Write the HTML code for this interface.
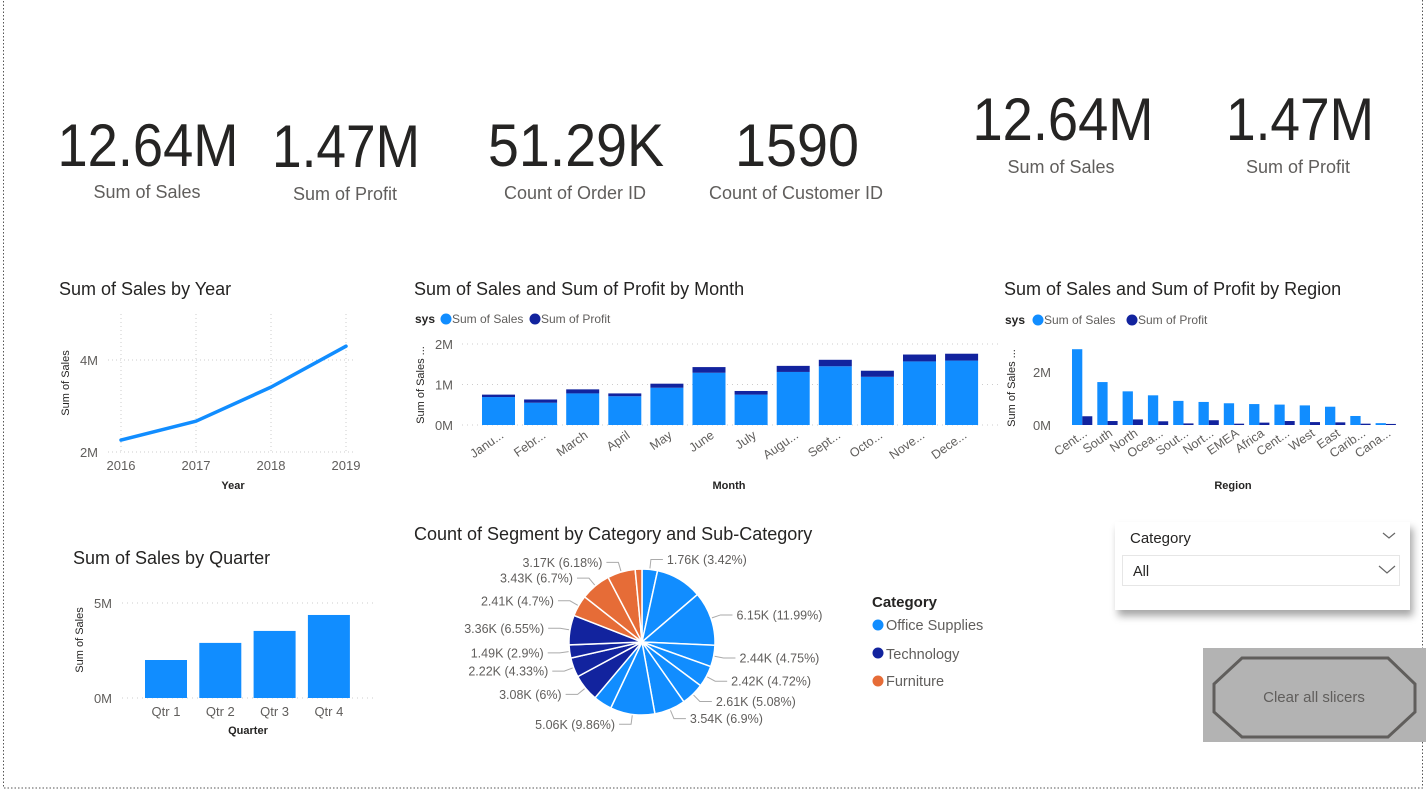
<!DOCTYPE html>
<html><head><meta charset="utf-8"><style>
html,body{margin:0;padding:0;background:#fff;}
svg{display:block;font-family:"Liberation Sans",sans-serif;}
</style></head><body>
<svg id="root" width="1426" height="791" viewBox="0 0 1426 791" xmlns="http://www.w3.org/2000/svg">
<defs>
<filter id="sh" x="-10%" y="-10%" width="130%" height="150%"><feDropShadow dx="3" dy="6" stdDeviation="4" flood-color="#000" flood-opacity="0.35"/></filter>
</defs>
<rect x="3.5" y="-2" width="1419" height="790" fill="none" stroke="#555" stroke-dasharray="1.5,2"/>

<g fill="#252423">
<g><text x="148" y="166" font-size="60" text-anchor="middle" textLength="181" lengthAdjust="spacingAndGlyphs">12.64M</text><text x="147" y="198" font-size="18" fill="#605e5c" text-anchor="middle">Sum of Sales</text></g>
<g><text x="346" y="167" font-size="60" text-anchor="middle" textLength="148" lengthAdjust="spacingAndGlyphs">1.47M</text><text x="345" y="200" font-size="18" fill="#605e5c" text-anchor="middle">Sum of Profit</text></g>
<g><text x="576" y="166" font-size="60" text-anchor="middle" textLength="176" lengthAdjust="spacingAndGlyphs">51.29K</text><text x="575" y="199" font-size="18" fill="#605e5c" text-anchor="middle">Count of Order ID</text></g>
<g><text x="797" y="166" font-size="60" text-anchor="middle" textLength="124" lengthAdjust="spacingAndGlyphs">1590</text><text x="796" y="199" font-size="18" fill="#605e5c" text-anchor="middle">Count of Customer ID</text></g>
<g><text x="1063" y="140" font-size="60" text-anchor="middle" textLength="181" lengthAdjust="spacingAndGlyphs">12.64M</text><text x="1061" y="173" font-size="18" fill="#605e5c" text-anchor="middle">Sum of Sales</text></g>
<g><text x="1300" y="140" font-size="60" text-anchor="middle" textLength="148" lengthAdjust="spacingAndGlyphs">1.47M</text><text x="1298" y="173" font-size="18" fill="#605e5c" text-anchor="middle">Sum of Profit</text></g>
</g>

<text x="59" y="295" font-size="18" fill="#252423">Sum of Sales by Year</text>
<g id="yearChart"></g>
<text x="73" y="564" font-size="18" fill="#252423">Sum of Sales by Quarter</text>
<g id="qtrChart"></g>
<text x="414" y="295" font-size="18" fill="#252423">Sum of Sales and Sum of Profit by Month</text>
<g id="monthChart"></g>
<text x="1004" y="295" font-size="18" fill="#252423">Sum of Sales and Sum of Profit by Region</text>
<g id="regionChart"></g>
<text x="414" y="540" font-size="18" fill="#252423">Count of Segment by Category and Sub-Category</text>
<g id="pieChart"></g>

<g>
<text x="872" y="607" font-size="15" font-weight="bold" fill="#252423">Category</text>
<g><circle cx="878" cy="625" r="5.5" fill="#118DFF"/><text x="886" y="630" font-size="14.5" fill="#605e5c">Office Supplies</text></g>
<g><circle cx="878" cy="653" r="5.5" fill="#12239E"/><text x="886" y="659" font-size="14.5" fill="#605e5c">Technology</text></g>
<g><circle cx="878" cy="681" r="5.5" fill="#E66C37"/><text x="886" y="686" font-size="14.5" fill="#605e5c">Furniture</text></g>
</g>

<g>
<rect x="1115" y="522" width="295" height="88" fill="#fff" filter="url(#sh)"/>
<text x="1130" y="543" font-size="15" fill="#252423">Category</text>
<path d="M1383 533 l6 5 l6 -5" fill="none" stroke="#666" stroke-width="1.2"/>
<g>
<rect x="1122.5" y="555.5" width="277" height="30" fill="#fff" stroke="#e6e6e6"/>
<text x="1133" y="576" font-size="14.5" fill="#252423">All</text>
<path d="M1379 566 l8 7 l8 -7" fill="none" stroke="#666" stroke-width="1.2"/>
</g>
</g>

<g>
<rect x="1203" y="648" width="223" height="94" fill="#b3b3b3"/>
<path d="M1242 658 H1388 L1415 684 V712 L1388 737 H1242 L1214 712 V684 Z" fill="none" stroke="#605e5c" stroke-width="3"/>
<text x="1314" y="702" font-size="15" fill="#605e5c" text-anchor="middle">Clear all slicers</text>
</g>
</svg>
<script>
// ---- Year line chart data ----
const yearLabels = ["2016","2017","2018","2019"];
const yearSales = [2.26, 2.67, 3.41, 4.30];
const yearTicks = [2, 4];
// ---- Quarter bar chart data ----
const qtrLabels = ["Qtr 1","Qtr 2","Qtr 3","Qtr 4"];
const qtrSales = [2.0, 2.9, 3.53, 4.37];
const qtrTicks = [0, 5];
// ---- Month stacked chart data ----
const monthLabels = ["Janu...","Febr...","March","April","May","June","July","Augu...","Sept...","Octo...","Nove...","Dece..."];
const monthSales = [0.69,0.55,0.78,0.71,0.92,1.29,0.75,1.31,1.45,1.19,1.57,1.59];
const monthProfit = [0.06,0.08,0.10,0.07,0.10,0.14,0.09,0.15,0.16,0.15,0.17,0.17];
const monthTicks = [0, 1, 2];
// ---- Region clustered chart data ----
const regionLabels = ["Cent...","South","North","Ocea...","Sout...","Nort...","EMEA","Africa","Cent...","West","East","Carib...","Cana..."];
const regionSales = [2.86,1.62,1.27,1.12,0.91,0.87,0.82,0.79,0.77,0.74,0.69,0.34,0.07];
const regionProfit = [0.33,0.15,0.21,0.14,0.06,0.18,0.05,0.09,0.15,0.11,0.10,0.05,0.04];
const regionTicks = [0, 2];
// ---- Pie data ----
const pieValues = [3.42,10.3,11.99,4.75,4.72,5.08,6.9,9.86,4.1,6.0,4.33,2.9,6.55,4.7,6.7,6.18,1.5];
const pieCats = ["o","o","o","o","o","o","o","o","o","t","t","t","t","f","f","f","f"];
const pieLabels = ["1.76K (3.42%)","","6.15K (11.99%)","2.44K (4.75%)","2.42K (4.72%)","2.61K (5.08%)","3.54K (6.9%)","5.06K (9.86%)","","3.08K (6%)","2.22K (4.33%)","1.49K (2.9%)","3.36K (6.55%)","2.41K (4.7%)","3.43K (6.7%)","3.17K (6.18%)",""];

const NS="http://www.w3.org/2000/svg";
const BLUE="#118DFF", NAVY="#12239E", ORANGE="#E66C37";
function mk(parent,tag,attrs,txt){const e=document.createElementNS(NS,tag);for(const k in attrs)e.setAttribute(k,attrs[k]);if(txt!==undefined)e.textContent=txt;parent.appendChild(e);return e;}

// Year chart
(function(){
  const g=document.getElementById('yearChart');
  const x=i=>121+i*75, y=v=>452-(v-2)*46;
  yearLabels.forEach((l,i)=>{
    mk(g,'line',{x1:x(i),x2:x(i),y1:314,y2:452,stroke:'#ccc','stroke-dasharray':'1,3'});
    const t=mk(g,'text',{x:x(i),y:470,'font-size':13,fill:'#605e5c','text-anchor':'middle'},l);
    
    
  });
  yearTicks.forEach(v=>{
    mk(g,'line',{x1:108,x2:356,y1:y(v),y2:y(v),stroke:'#ccc','stroke-dasharray':'1,3'});
    const t=mk(g,'text',{x:98,y:y(v)+5,'font-size':13,fill:'#605e5c','text-anchor':'end'},v+'M');
    
    
  });
  const p=mk(g,'polyline',{points:yearSales.map((v,i)=>x(i)+','+y(v)).join(' '),fill:'none',stroke:BLUE,'stroke-width':3.5,'stroke-linejoin':'round','stroke-linecap':'round'});
  
  
  const a=mk(g,'text',{x:233,y:489,'font-size':11,'font-weight':'bold',fill:'#252423','text-anchor':'middle'},'Year');
  
  
  const b=mk(g,'text',{x:0,y:0,'font-size':11,fill:'#252423','text-anchor':'middle',transform:'translate(69,383) rotate(-90)'},'Sum of Sales');
  
  
})();

// Quarter chart
(function(){
  const g=document.getElementById('qtrChart');
  const y=v=>698-v*19, x=i=>145+i*54.3;
  qtrTicks.forEach(v=>{
    mk(g,'line',{x1:122,x2:375,y1:y(v),y2:y(v),stroke:'#ccc','stroke-dasharray':'1,4'});
    const t=mk(g,'text',{x:112,y:y(v)+5,'font-size':13,fill:'#605e5c','text-anchor':'end'},v+'M');
    
    
  });
  qtrSales.forEach((v,i)=>{
    const r=mk(g,'rect',{x:x(i),y:y(v),width:42,height:v*19,fill:BLUE});
    
    
    const t=mk(g,'text',{x:x(i)+21,y:716,'font-size':13,fill:'#605e5c','text-anchor':'middle'},qtrLabels[i]);
    
    
  });
  const a=mk(g,'text',{x:248,y:734,'font-size':11,'font-weight':'bold',fill:'#252423','text-anchor':'middle'},'Quarter');
  
  
  const b=mk(g,'text',{x:0,y:0,'font-size':11,fill:'#252423','text-anchor':'middle',transform:'translate(83,640) rotate(-90)'},'Sum of Sales');
  
  
})();

function legend(g,x0,y0,pos){
  const s=mk(g,'text',{x:x0,y:y0+4,'font-size':12,'font-weight':'bold',fill:'#252423'},'sys');
  
  
  [[pos[0],BLUE,'Sum of Sales'],[pos[1],NAVY,'Sum of Profit']].forEach(([px,c,l])=>{
    const e=mk(g,'g',{});
    
    
    mk(e,'circle',{cx:px,cy:y0,r:5.5,fill:c});
    mk(e,'text',{x:px+6,y:y0+4,'font-size':12,fill:'#605e5c'},l);
  });
}

// Month chart
(function(){
  const g=document.getElementById('monthChart');
  const y=v=>425-v*40.5, cx=i=>498.5+i*42.1;
  legend(g,415,319,[446,535]);
  monthTicks.forEach(v=>{
    mk(g,'line',{x1:462,x2:1000,y1:y(v),y2:y(v),stroke:'#ccc','stroke-dasharray':'1,4'});
    const t=mk(g,'text',{x:453,y:y(v)+5,'font-size':13,fill:'#605e5c','text-anchor':'end'},v+'M');
    
    
  });
  monthLabels.forEach((l,i)=>{
    const r=mk(g,'rect',{x:cx(i)-16.5,y:y(monthSales[i]),width:33,height:monthSales[i]*40.5,fill:BLUE});
    
    
    const p=mk(g,'rect',{x:cx(i)-16.5,y:y(monthSales[i]+monthProfit[i]),width:33,height:monthProfit[i]*40.5,fill:NAVY});
    
    
    const t=mk(g,'text',{x:0,y:0,'font-size':12.5,fill:'#605e5c','text-anchor':'end',transform:`translate(${cx(i)+6},${437}) rotate(-35)`},l);
    
    
  });
  const a=mk(g,'text',{x:729,y:489,'font-size':11,'font-weight':'bold',fill:'#252423','text-anchor':'middle'},'Month');
  
  
  const b=mk(g,'text',{x:0,y:0,'font-size':11,fill:'#252423','text-anchor':'middle',transform:'translate(424,385) rotate(-90)'},'Sum of Sales ...');
  
  
})();

// Region chart
(function(){
  const g=document.getElementById('regionChart');
  const y=v=>425-v*26.5, gx=i=>1072+i*25.3;
  legend(g,1005,320,[1038,1132]);
  regionTicks.forEach(v=>{
    const t=mk(g,'text',{x:1051,y:y(v)+5,'font-size':13,fill:'#605e5c','text-anchor':'end'},v+'M');
    
    
  });
  regionLabels.forEach((l,i)=>{
    const r=mk(g,'rect',{x:gx(i),y:y(regionSales[i]),width:10.3,height:regionSales[i]*26.5,fill:BLUE});
    
    
    const p=mk(g,'rect',{x:gx(i)+10.3,y:y(regionProfit[i]),width:10,height:regionProfit[i]*26.5,fill:NAVY});
    
    
    const t=mk(g,'text',{x:0,y:0,'font-size':12.5,fill:'#605e5c','text-anchor':'end',transform:`translate(${gx(i)+16},${435}) rotate(-35)`},l);
    
    
  });
  const a=mk(g,'text',{x:1233,y:489,'font-size':11,'font-weight':'bold',fill:'#252423','text-anchor':'middle'},'Region');
  
  
  const b=mk(g,'text',{x:0,y:0,'font-size':11,fill:'#252423','text-anchor':'middle',transform:'translate(1015,388) rotate(-90)'},'Sum of Sales ...');
  
  
})();

// Pie chart
(function(){
  const g=document.getElementById('pieChart');
  const cx=642,cy=642,R=73;
  const total=pieValues.reduce((a,b)=>a+b,0);
  const col={o:BLUE,t:NAVY,f:ORANGE};
  let a0=0;
  pieValues.forEach((v,i)=>{
    const a1=a0+v/total*2*Math.PI;
    const p=(a,r)=>[cx+r*Math.sin(a),cy-r*Math.cos(a)];
    const [x0,y0]=p(a0,R),[x1,y1]=p(a1,R);
    const large=(a1-a0)>Math.PI?1:0;
    const s=mk(g,'path',{d:`M${cx},${cy} L${x0},${y0} A${R},${R} 0 ${large} 1 ${x1},${y1} Z`,fill:col[pieCats[i]],stroke:'#fff','stroke-width':1.5});
    
    
    if(pieLabels[i]){
      const am=(a0+a1)/2;
      const [ex,ey]=p(am,R+1),[mx,my]=p(am,R+10);
      const right=Math.sin(am)>=0;
      const lx=mx+(right?12:-12);
      mk(g,'polyline',{points:`${ex},${ey} ${mx},${my} ${lx},${my}`,fill:'none',stroke:'#aaa','stroke-width':1});
      const t=mk(g,'text',{x:lx+(right?4:-4),y:my+4.5,'font-size':12.5,fill:'#605e5c','text-anchor':right?'start':'end'},pieLabels[i]);
      
      
    }
    a0=a1;
  });
})();
</script>
</body></html>
